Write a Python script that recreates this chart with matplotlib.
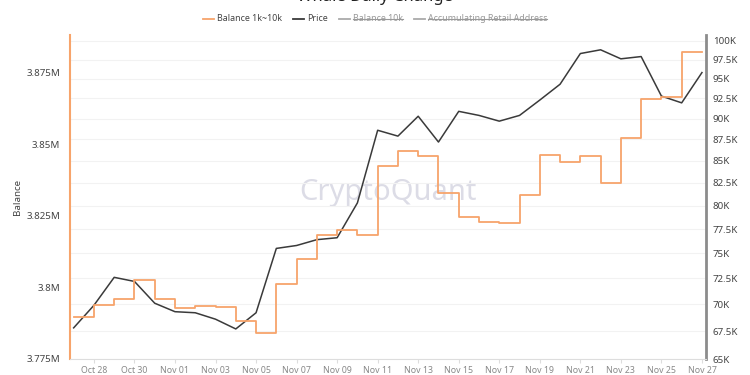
import numpy as np
import pandas as pd
import matplotlib
matplotlib.use("Agg")
import matplotlib.pyplot as plt
import matplotlib.dates as mdates
from matplotlib.lines import Line2D
from matplotlib.ticker import FixedLocator, FuncFormatter, NullLocator

plt.rcParams['font.family'] = ['Noto Sans', 'DejaVu Sans']

# data (daily, Oct 27 .. Nov 27 2024)
dates = pd.date_range("2024-10-27", "2024-11-27", freq="D")
balance_k = [3789.8, 3793.9, 3795.8, 3802.6, 3795.8, 3792.9, 3793.4, 3793.2,
             3788.3, 3784.0, 3801.1, 3809.8, 3818.3, 3820.0, 3818.3, 3842.4,
             3847.8, 3846.0, 3832.9, 3824.7, 3823.0, 3822.6, 3832.2, 3846.1,
             3843.7, 3845.9, 3836.4, 3852.2, 3865.7, 3866.4, 3882.3, 3882.3]
price_k = [67.8, 69.9, 72.6, 72.2, 70.1, 69.3, 69.2, 68.6, 67.7, 69.2, 75.5,
           75.8, 76.4, 76.6, 80.3, 88.6, 87.9, 90.3, 87.2, 90.9, 90.4, 89.7,
           90.4, 92.3, 94.3, 98.3, 98.8, 97.6, 97.9, 92.8, 91.95, 95.8]
balance = np.array(balance_k) * 1000
price = np.array(price_k) * 1000

left_ticks = [3775000, 3800000, 3825000, 3850000, 3875000]
right_ticks = list(range(65000, 100001, 2500))

legend_items = ["Balance 1k~10k", "Price", "Balance 10k", "Accumulating Retail Address"]
legend_on = [True, True, False, False]

orange = "#f7a46b"
dark = "#3a3a3a"

fig = plt.figure(figsize=(7.5, 3.75), dpi=100)
ax = fig.add_axes([70/750, 1-359/375, 636/750, 324/375])
ax2 = ax.twinx()
# price axis behind, balance on top
ax.set_zorder(ax2.get_zorder() + 1)
ax.patch.set_visible(False)

ax2.plot(dates, price, color=dark, lw=1.1, zorder=3)
ax.plot(dates, balance, color=orange, lw=1.3, drawstyle="steps-post", zorder=3)

ax2.text(0.5, 0.515, "CryptoQuant", transform=ax2.transAxes, fontsize=21,
         color="#dcdce6", ha="center", va="center", zorder=0)

x0 = mdates.date2num(dates[0]) - 0.18
x1 = mdates.date2num(dates[-1]) + 0.2
ax.set_xlim(x0, x1)

ax.set_ylim(3775000, 3888200)
ax2.set_yscale("log")
ax2.set_ylim(65000, 100800)

ax.yaxis.set_major_locator(FixedLocator(left_ticks))
ax.yaxis.set_major_formatter(FuncFormatter(lambda v, p: f"{v/1e6:g}M"))
ax2.yaxis.set_major_locator(FixedLocator(right_ticks))
ax2.yaxis.set_minor_locator(NullLocator())
ax2.yaxis.set_major_formatter(FuncFormatter(lambda v, p: f"{v/1000:g}K"))

ax.set_xticks(dates[1::2])
ax.xaxis.set_major_formatter(mdates.DateFormatter("%b %d"))

ax2.grid(axis="y", color="#f2f2f2", lw=0.8)
ax2.set_axisbelow(True)

ax.tick_params(axis="y", length=0, pad=7, labelsize=7, labelcolor="#444444")
ax2.tick_params(axis="y", length=0, pad=5, labelsize=7, labelcolor="#444444", which="both")
ax.tick_params(axis="x", length=3, color="#dddddd", pad=2, labelsize=6.3, labelcolor="#888888")

for a in (ax, ax2):
    a.spines["top"].set_visible(False)
ax.spines["right"].set_visible(False)
ax.spines["left"].set_color(orange)
ax.spines["left"].set_linewidth(1.5)
ax.spines["bottom"].set_color("#dddddd")
ax2.spines["left"].set_visible(False)
ax2.spines["bottom"].set_visible(False)
ax2.spines["right"].set_color("#8c8c8c")
ax2.spines["right"].set_linewidth(2)

ax.set_ylabel("Balance", fontsize=7, color="#444444")
ax.yaxis.set_label_coords((22 - 70) / 636, 0.5)

fig.text(0.5, 1 + 3/375, "Whale Daily Change", ha="center", va="center",
         fontsize=12, fontweight="bold", color="#222222")

# legend, echarts style with hidden series struck through
fig.canvas.draw()
renderer = fig.canvas.get_renderer()
handle_colors = [orange, dark, "#aaaaaa", "#aaaaaa"]
text_colors = ["#444444", "#444444", "#999999", "#999999"]
fs = 6.4
hw, hgap, igap = 11, 3, 11
widths = []
for lbl in legend_items:
    t = fig.text(0, 0, lbl, fontsize=fs)
    widths.append(t.get_window_extent(renderer).width)
    t.remove()
total = sum(hw + hgap + w for w in widths) + igap * (len(widths) - 1)
xp = 375 - total / 2
ly = 1 - 18.5/375
for lbl, on, hc, tc, w in zip(legend_items, legend_on, handle_colors, text_colors, widths):
    fig.add_artist(Line2D([xp/750, (xp+hw)/750], [ly, ly], color=hc, lw=1.3))
    fig.text((xp+hw+hgap)/750, ly, lbl, ha="left", va="center", fontsize=fs, color=tc)
    if not on:
        fig.add_artist(Line2D([(xp+hw+hgap)/750, (xp+hw+hgap+w)/750], [ly, ly], color=tc, lw=0.8))
    xp += hw + hgap + w + igap

fig.savefig("out.png", dpi=100)
